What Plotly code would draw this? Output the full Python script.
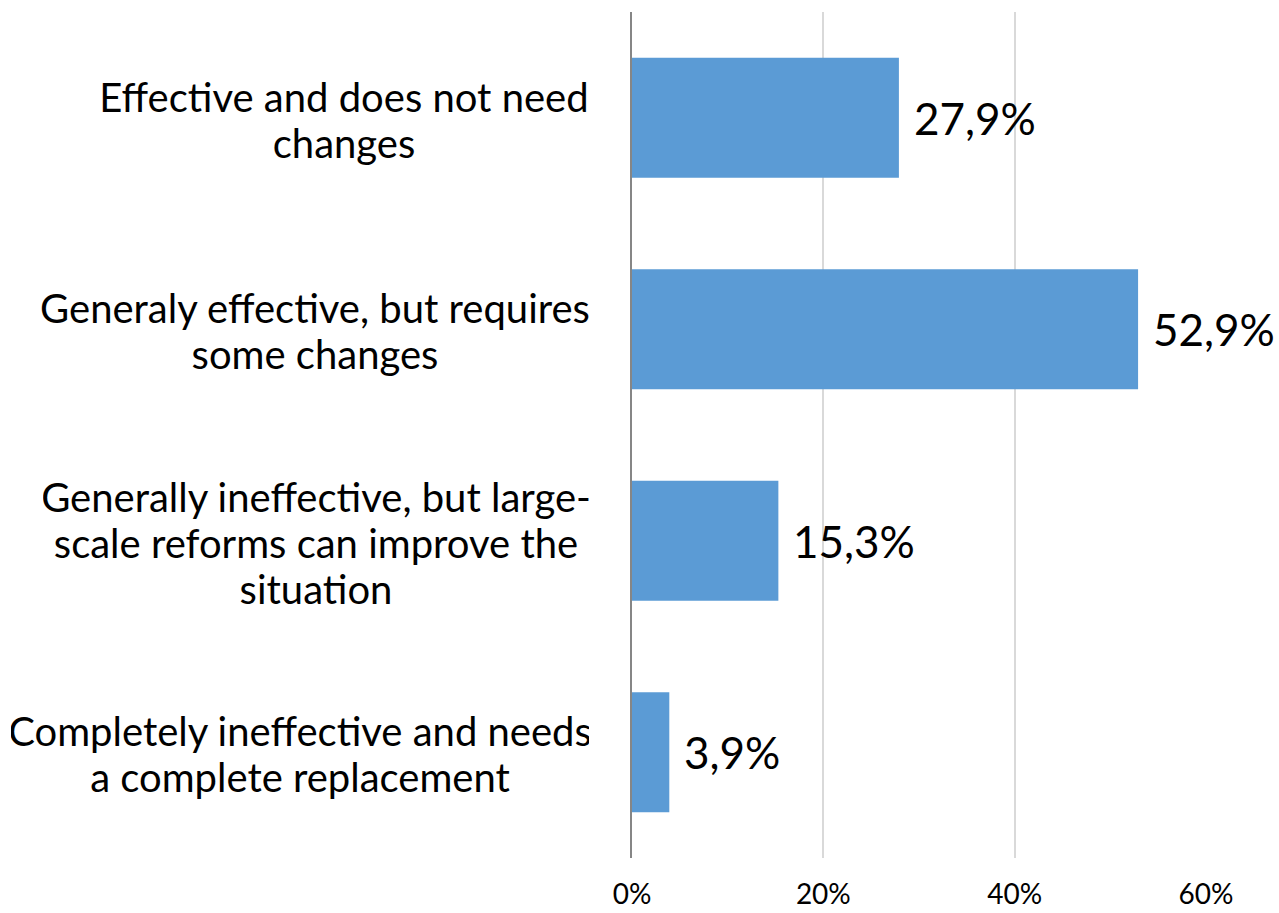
import plotly.graph_objects as go

# Survey responses: assessment of the current system
categories = [
    "Effective and does not need<br>changes",
    "Generaly effective, but requires<br>some changes",
    "Generally ineffective, but large-<br>scale reforms can improve the<br>situation",
    "Completely ineffective and needs<br>a complete replacement",
]
shares = [27.9, 52.9, 15.3, 3.9]
tick_values = [0, 20, 40, 60]
tick_labels = ["0%", "20%", "40%", "60%"]

FONT = "Lato"
BAR_COLOR = "#5B9BD5"
LABEL_SIZE = 40
LINE_STEP = 46          # px between wrapped label lines
LABEL_BOX = [490, 548, 546, 578]  # text block widths for centring lines

fig = go.Figure(
    go.Bar(
        x=shares,
        y=categories,
        orientation="h",
        marker=dict(color=BAR_COLOR, line=dict(width=0)),
        hoverinfo="skip",
    )
)

# Value labels to the right of each bar
for cat, v in zip(categories, shares):
    fig.add_annotation(
        x=v, y=cat, xref="x", yref="y",
        text=f"{v:.1f}%".replace(".", ","),
        showarrow=False, xanchor="left", yanchor="middle",
        xshift=13,
        font=dict(family=FONT, size=44, color="#000000"),
    )

# Category labels: each wrapped line centred within its block,
# block right edge placed left of the axis
for cat, box in zip(categories, LABEL_BOX):
    lines = cat.split("<br>")
    n = len(lines)
    for k, line in enumerate(lines):
        fig.add_annotation(
            x=0, y=cat, xref="paper", yref="y",
            text=line, showarrow=False,
            xanchor="right", yanchor="middle", align="center",
            width=box, borderpad=0,
            xshift=-42,
            yshift=-(k - (n - 1) / 2) * LINE_STEP - 2,
            font=dict(family=FONT, size=LABEL_SIZE, color="#000000"),
        )

fig.update_layout(
    width=1279, height=913,
    margin=dict(l=632, r=73, t=12, b=55, autoexpand=False),
    paper_bgcolor="white", plot_bgcolor="white",
    bargap=0.433,
    showlegend=False,
    font=dict(family=FONT, color="#000000"),
)
fig.update_xaxes(
    range=[0, 60],
    tickvals=tick_values, ticktext=tick_labels,
    showgrid=True, gridcolor="#D9D9D9", gridwidth=1.5,
    zeroline=False, showline=False,
    ticks="", ticklabelstandoff=17, automargin=False,
    tickfont=dict(family=FONT, size=28, color="#000000"),
    fixedrange=True,
)
fig.update_yaxes(
    autorange="reversed",
    showticklabels=False, automargin=False,
    showline=True, linecolor="#868686", linewidth=2,
    showgrid=False, zeroline=False, ticks="",
    fixedrange=True,
)

fig.write_html("out.html")
